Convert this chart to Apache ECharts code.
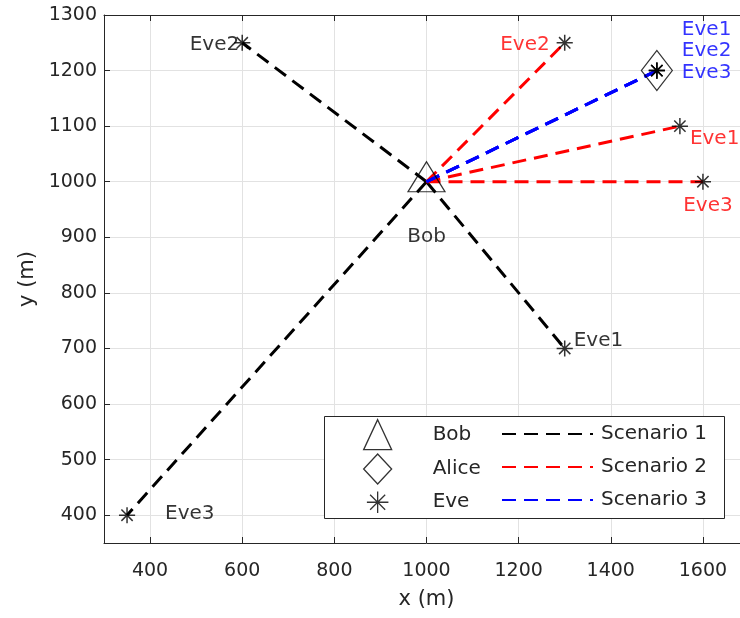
<!DOCTYPE html>
<html>
<head>
<meta charset="utf-8">
<title>Bob / Alice / Eve positions</title>
<script src="https://cdn.jsdelivr.net/npm/echarts@6/dist/echarts.min.js"></script>
<style>
html, body { margin: 0; padding: 0; background: #fff; overflow: hidden; width: 740px; height: 618px; }
#chart { width: 760px; height: 618px; }
</style>
</head>
<body>
<div id="chart"></div>
<script>
// node positions (m)
var bobPos = [1000, 1000];
var alicePos = [1500, 1200];
var eveNames = ['Eve1', 'Eve2', 'Eve3'];
var eveScenario1 = [[1300, 700], [600, 1250], [350, 400]];
var eveScenario2 = [[1550, 1100], [1300, 1250], [1600, 1000]];
var eveScenario3 = [[1500, 1200], [1500, 1200], [1500, 1200]];
var scenarioNames = ['Scenario 1', 'Scenario 2', 'Scenario 3'];
var xTicks = [400, 600, 800, 1000, 1200, 1400, 1600];
var yTicks = [400, 500, 600, 700, 800, 900, 1000, 1100, 1200, 1300];

var FONT = 'DejaVu Sans';
var AX = '#262626';
// asterisk (+ and x), padded so the arms use ~3/4 of the box
var asterisk = 'path://M0,-10L0,10M-10,0L10,0M-7,-7L7,7M-7,7L7,-7M-13,-13M13,13';

// label placement for each Eve, per scenario
var labelPos1 = [{align: 'left', offset: [9, -8]}, {align: 'right', offset: [-3, 2]}, {align: 'left', offset: [38, -1]}];
var labelPos2 = [{align: 'left', offset: [10, 13]}, {align: 'right', offset: [-15, 2]}, {align: 'center', offset: [5, 24]}];
var labelPos3 = [{align: 'left', offset: [25, -41]}, {align: 'left', offset: [25, -20]}, {align: 'left', offset: [25, 2]}];

function eveSeries(points, color, pos) {
    return {
        name: 'Eve', type: 'scatter', symbol: asterisk, symbolSize: 21, z: 5,
        itemStyle: {color: 'rgba(0,0,0,0)', borderColor: '#000', borderWidth: 1.5},
        label: {show: true, position: 'inside', formatter: '{b}', color: color, fontSize: 20, fontFamily: FONT},
        data: points.map(function (p, i) {
            return {name: eveNames[i], value: p, label: pos[i]};
        })
    };
}

function linkSeries(name, color, ends) {
    return ends.map(function (p) {
        return {
            name: name, type: 'line', symbol: 'none', z: 3,
            lineStyle: {color: color, width: 3, type: [14, 8]},
            itemStyle: {color: color},
            data: [bobPos, p]
        };
    });
}

var series = [].concat(
    linkSeries(scenarioNames[0], '#000000', eveScenario1),
    linkSeries(scenarioNames[1], '#ff0000', eveScenario2),
    linkSeries(scenarioNames[2], '#0000ff', eveScenario3),
    [{
        name: 'Bob', type: 'scatter', symbol: 'triangle', symbolSize: [37, 30], symbolOffset: [0, -5], z: 4,
        itemStyle: {color: 'rgba(0,0,0,0)', borderColor: '#000', borderWidth: 1.2},
        label: {show: true, position: 'inside', formatter: 'Bob', color: '#000', fontSize: 20, fontFamily: FONT, offset: [0, 60]},
        data: [bobPos]
    }, {
        name: 'Alice', type: 'scatter', symbol: 'diamond', symbolSize: [31, 40], z: 4,
        itemStyle: {color: 'rgba(0,0,0,0)', borderColor: '#000', borderWidth: 1.2},
        data: [alicePos]
    }],
    eveSeries(eveScenario1, '#000000', labelPos1),
    eveSeries(eveScenario2, '#ff0000', labelPos2),
    eveSeries(eveScenario3, '#0000ff', labelPos3)
);

function plain(v) { return String(v); }

var chart = echarts.init(document.getElementById('chart'));
chart.setOption({
    animation: false,
    grid: {left: 104, top: 15, width: 645, height: 528},
    xAxis: [{
        type: 'value', min: 300, max: 1700, position: 'bottom',
        name: 'x (m)', nameLocation: 'middle', nameGap: 46,
        nameTextStyle: {fontSize: 21, color: AX, fontFamily: FONT},
        axisLine: {show: true, onZero: false, lineStyle: {color: AX}},
        axisTick: {show: true, inside: true, length: 6, customValues: xTicks, lineStyle: {color: AX}},
        axisLabel: {customValues: xTicks, formatter: plain, fontSize: 19, color: AX, margin: 19, fontFamily: FONT},
        splitLine: {show: true, lineStyle: {color: '#e2e2e2'}}
    }, {
        type: 'value', min: 300, max: 1700, position: 'top',
        axisLine: {show: true, onZero: false, lineStyle: {color: AX}},
        axisTick: {show: true, inside: true, length: 6, customValues: xTicks, lineStyle: {color: AX}},
        axisLabel: {show: false},
        splitLine: {show: false}
    }],
    yAxis: {
        type: 'value', min: 350, max: 1300,
        name: 'y (m)', nameLocation: 'middle', nameGap: 58,
        nameTextStyle: {fontSize: 21, color: AX, fontFamily: FONT},
        axisLine: {show: true, onZero: false, lineStyle: {color: AX}},
        axisTick: {show: true, inside: true, length: 6, customValues: yTicks, lineStyle: {color: AX}},
        axisLabel: {customValues: yTicks, formatter: plain, fontSize: 19, color: AX, margin: 7, fontFamily: FONT},
        splitLine: {show: true, lineStyle: {color: '#e2e2e2'}}
    },
    graphic: [{
        type: 'rect', z: 3,
        shape: {x: 324.5, y: 416.5, width: 400, height: 102},
        style: {fill: '#fff', stroke: AX, lineWidth: 1}
    }],
    legend: [{
        data: ['Bob', 'Alice', 'Eve'], orient: 'vertical', left: 363, top: 419,
        itemWidth: 28, itemHeight: 30, itemGap: 3, padding: 0, selectedMode: false,
        itemStyle: {borderWidth: 1.3, borderColor: '#000'},
        formatter: '{t|{name}}',
        textStyle: {color: AX, fontSize: 20, fontFamily: FONT,
            rich: {t: {fontSize: 20, fontFamily: FONT, color: AX, padding: [0, 0, 0, 36]}}}
    }, {
        data: scenarioNames, orient: 'vertical', left: 501, top: 422,
        itemWidth: 91, itemHeight: 30, itemGap: 9, padding: 0, selectedMode: false,
        itemStyle: {opacity: 0},
        formatter: '{t|{name}}',
        textStyle: {color: AX, fontSize: 20, fontFamily: FONT,
            rich: {t: {fontSize: 20, fontFamily: FONT, color: AX, padding: [0, 0, 0, 3]}}}
    }],
    series: series
});
</script>
</body>
</html>
